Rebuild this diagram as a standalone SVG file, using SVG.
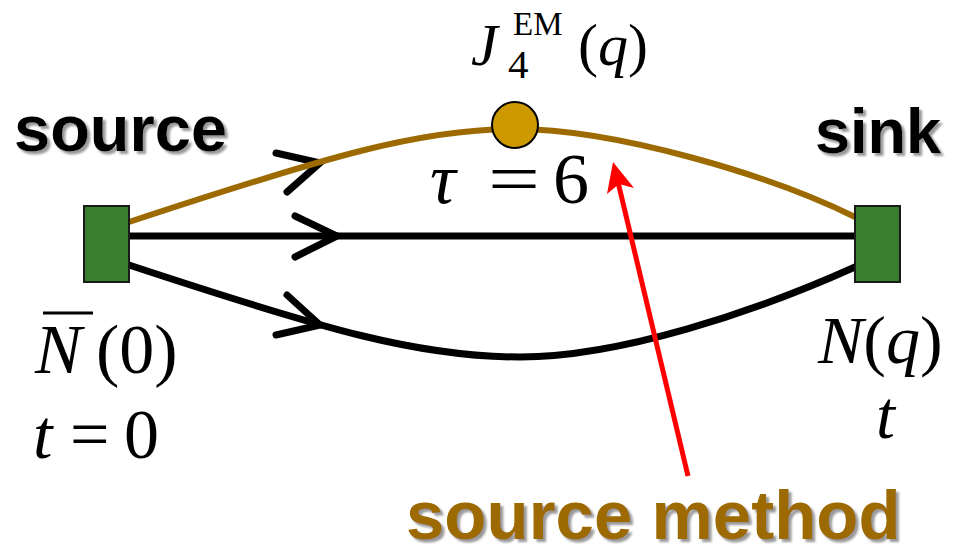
<svg xmlns="http://www.w3.org/2000/svg" width="967" height="547" viewBox="0 0 967 547">
<defs>
<style>
.box{fill:#3A7F2F;stroke:#1a1a1a;stroke-width:2}
.blk{fill:none;stroke:#000;stroke-width:7;stroke-linecap:round}
.brn{fill:none;stroke:#9C6A00;stroke-width:6}
.chev{fill:none;stroke:#000;stroke-width:7;stroke-linecap:round;stroke-linejoin:miter}
.lbl{font-family:'Liberation Sans',Arial,sans-serif;font-weight:bold}
.it{font-style:italic}
</style>
<filter id="sh" filterUnits="userSpaceOnUse" x="0" y="0" width="967" height="547">
<feDropShadow dx="3" dy="3" stdDeviation="1" flood-color="#9a9a9a" flood-opacity="1"/>
</filter>
</defs>
<rect width="967" height="547" fill="#fff"/>

<g id="connectors">
<polyline class="chev" points="276,153 320,163 287,192"/>
<path class="brn" d="M129,222 C329,156 420,129 515,129 C615,129 770,175 855,217"/>
<path class="blk" d="M129,236 L855,236"/>
<polyline class="chev" points="295,216 337,236 295,257"/>
<path class="blk" d="M129,265 C329,331 420,357 520,357 C620,357 755,312 855,267"/>
<polyline class="chev" points="287,295 320,325 276,335"/>
<line x1="688" y1="476" x2="618" y2="182" stroke="#FF0000" stroke-width="5"/>
<polygon points="613,162 607,194 619,184 634,188" fill="#FF0000"/>
</g>

<g id="source">
<rect class="box" x="84" y="206" width="45" height="76"/>
<text class="lbl" x="14" y="151" font-size="65" filter="url(#sh)">source</text>
<text font-family="'Liberation Serif','Times New Roman',serif" y="373" font-size="70"><tspan font-style="italic" x="35">N</tspan><tspan x="96">(0)</tspan></text>
<line x1="43" y1="313" x2="93" y2="313" stroke="#000" stroke-width="3"/>
<text font-family="'Liberation Serif','Times New Roman',serif" y="458" font-size="70"><tspan font-style="italic" x="33">t</tspan><tspan x="70">=</tspan><tspan x="124">0</tspan></text>
</g>

<g id="sink">
<rect class="box" x="855" y="206" width="45" height="76"/>
<text class="lbl" x="815" y="153" font-size="63" filter="url(#sh)">sink</text>
<text font-family="'Liberation Serif','Times New Roman',serif" y="363" font-size="68"><tspan font-style="italic" x="818">N</tspan><tspan>(</tspan><tspan font-style="italic">q</tspan><tspan>)</tspan></text>
<text font-family="'Liberation Serif','Times New Roman',serif" font-style="italic" x="876" y="438" font-size="68">t</text>
</g>

<g id="vertex">
<circle cx="515" cy="125" r="23" fill="#CC9900" stroke="#000" stroke-width="2"/>
<text font-family="'Liberation Serif','Times New Roman',serif" y="65" font-size="60"><tspan font-style="italic" x="471">J</tspan><tspan x="578">(</tspan><tspan font-style="italic">q</tspan><tspan>)</tspan></text>
<text font-family="'Liberation Serif','Times New Roman',serif" x="513" y="35" font-size="33">EM</text>
<text font-family="'Liberation Serif','Times New Roman',serif" x="508" y="78" font-size="41">4</text>
<text font-family="'Liberation Serif','Times New Roman',serif" y="203" font-size="72"><tspan font-style="italic" x="430">τ</tspan><tspan x="488" textLength="52" lengthAdjust="spacingAndGlyphs">=</tspan><tspan x="553">6</tspan></text>
</g>

<g id="label">
<text class="lbl" x="406" y="539" font-size="69" fill="#9C6A00" filter="url(#sh)">source method</text>
</g>
</svg>
